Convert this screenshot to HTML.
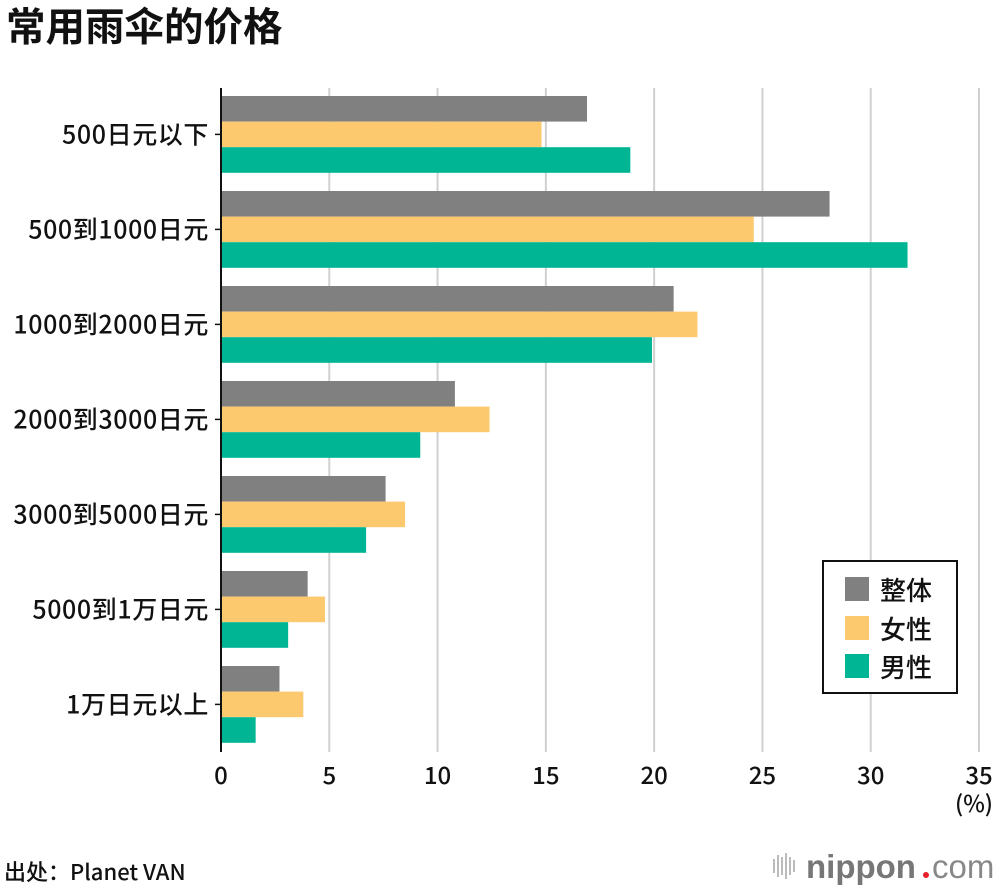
<!DOCTYPE html>
<html><head><meta charset="utf-8"><style>
body{margin:0;background:#fff;width:1000px;height:890px;overflow:hidden}
svg text{font-family:"Liberation Sans","Noto Sans CJK SC",sans-serif;fill:#111}
svg text.cjk{font-family:"Noto Sans CJK SC",sans-serif}
</style></head><body>
<svg id="c" width="1000" height="890">
<text class="cjk" x="6" y="41" font-size="39.5" font-weight="bold">常用雨伞的价格</text>
<g id="grid"></g><g id="bars"></g><g id="axes"></g>
<text class="cjk" x="974" y="812" font-size="23" text-anchor="middle" font-weight="500">(%)</text>
<text class="cjk" x="4" y="880" font-size="22" font-weight="500">出处：Planet VAN</text>
<g>
<g fill="#bbb"><rect x="773" y="859" width="2" height="14"/><rect x="777" y="855" width="2" height="22"/><rect x="781" y="857" width="2" height="18"/><rect x="785" y="853" width="2" height="26"/><rect x="789" y="857" width="2" height="18"/><rect x="793" y="860" width="2" height="12"/></g>
<text x="806" y="878" font-size="33" font-weight="bold" style="fill:#777">nippon</text>
<circle cx="926" cy="875" r="3" fill="#e8202a"/>
<text x="932" y="878" font-size="33" style="fill:#888">com</text>
</g>
<g>
<rect x="823" y="561" width="134" height="132" fill="#fff" stroke="#111" stroke-width="2"/>
<rect x="845" y="577" width="24" height="24" fill="#808080"/><text class="cjk" x="880" y="600" font-size="26" font-weight="500">整体</text>
<rect x="845" y="616" width="24" height="24" fill="#fdc96e"/><text class="cjk" x="880" y="639" font-size="26" font-weight="500">女性</text>
<rect x="845" y="654" width="24" height="24" fill="#00b593"/><text class="cjk" x="880" y="677" font-size="26" font-weight="500">男性</text>
</g>
</svg>
<script>
const categories=["500日元以下","500到1000日元","1000到2000日元","2000到3000日元","3000到5000日元","5000到1万日元","1万日元以上"];
const totalValues=[16.9,28.1,20.9,10.8,7.6,4.0,2.7];
const femaleValues=[14.8,24.6,22.0,12.4,8.5,4.8,3.8];
const maleValues=[18.9,31.7,19.9,9.2,6.7,3.1,1.6];
const xTicks=[0,5,10,15,20,25,30,35];
const NS="http://www.w3.org/2000/svg";
const x0=221,x1=979,xMax=35,top0=96,pitch=95,bh=25.6;
const X=v=>x0+v*(x1-x0)/xMax;
const Y=i=>top0+i*pitch;
function mk(t,a,p){const e=document.createElementNS(NS,t);for(const k in a)e.setAttribute(k,a[k]);p.appendChild(e);return e;}
const grid=document.getElementById('grid'),bars=document.getElementById('bars'),axes=document.getElementById('axes');
xTicks.forEach(t=>{
 if(t>0){const l=mk('line',{x1:X(t),x2:X(t),y1:88,y2:752,stroke:'#d0d0d0','stroke-width':2},grid);
 
 }
 const tx=mk('text',{x:X(t),y:784,'font-size':24,'font-weight':500,'text-anchor':'middle','class':'cjk'},axes);tx.textContent=t;
 
 
});
const series=[[totalValues,'#808080','total'],[femaleValues,'#fdc96e','female'],[maleValues,'#00b593','male']];
categories.forEach((c,i)=>{
 series.forEach((s,j)=>{
  const r=mk('rect',{x:x0,y:Y(i)+j*bh,width:X(s[0][i])-x0,height:bh,fill:s[1]},bars);
  
  
 });
 const cy=Y(i)+bh*1.5;
 mk('line',{x1:x0-6,x2:x0,y1:cy,y2:cy,stroke:'#111','stroke-width':1.5},axes);
 const t=mk('text',{x:209,y:cy+9,'font-size':25,'font-weight':500,'letter-spacing':0.6,'text-anchor':'end','class':'cjk'},axes);t.textContent=c;
 
 
});
const ax=mk('line',{x1:x0,x2:x0,y1:88,y2:752,stroke:'#111','stroke-width':2},axes);


</script>
</body></html>
